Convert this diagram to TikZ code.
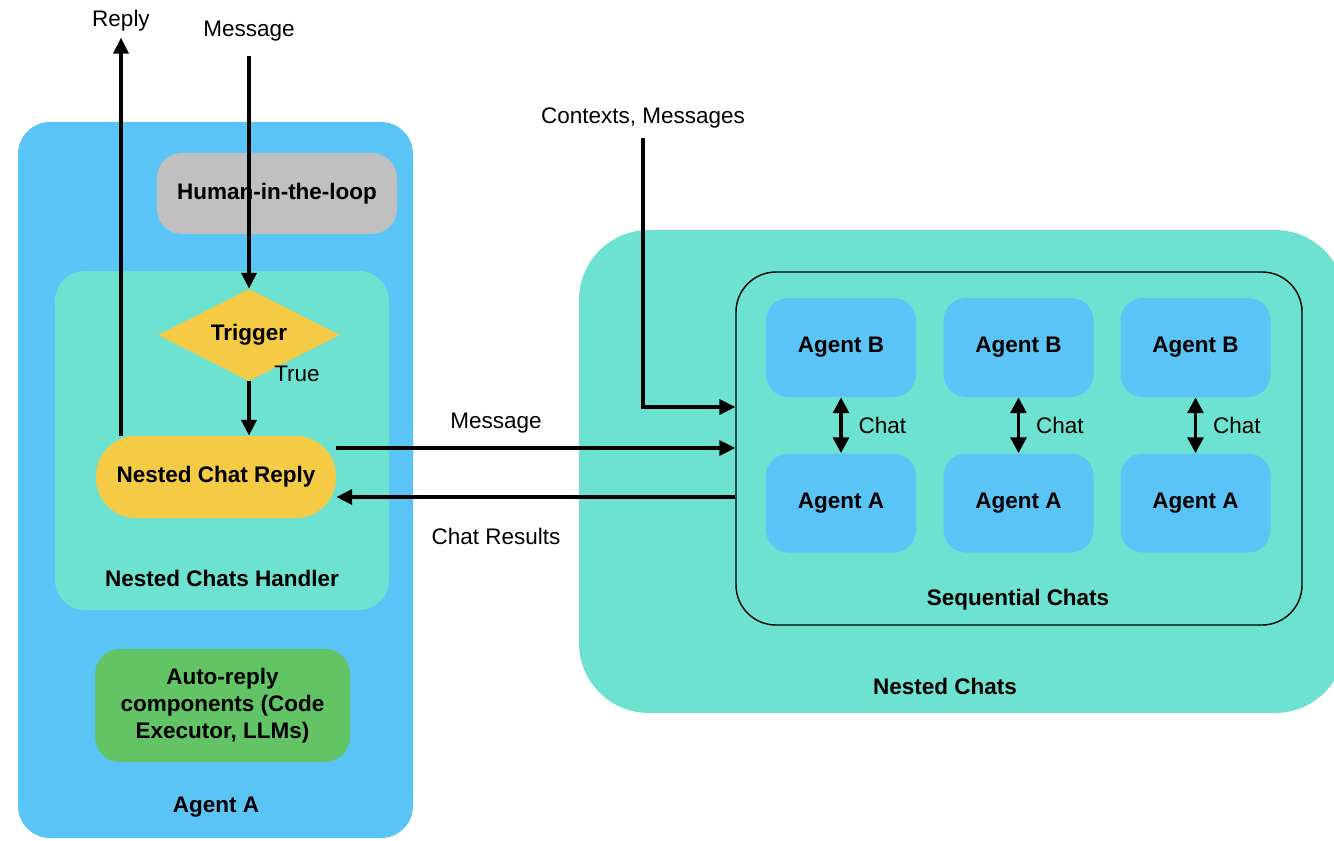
\documentclass[tikz,border=0pt]{standalone}
\usepackage{fontspec}
\setmainfont{Liberation Sans}
\usetikzlibrary{arrows.meta,shapes.geometric}

\definecolor{agentblue}{RGB}{91,196,246}
\definecolor{nestteal}{RGB}{110,226,208}
\definecolor{humangray}{RGB}{192,192,192}
\definecolor{trigyellow}{RGB}{245,202,69}
\definecolor{autogreen}{RGB}{99,196,102}

\tikzset{
    arr/.style={line width=2pt, -{Triangle[length=9pt,width=8.5pt]}},
    dblarr/.style={line width=2pt, {Triangle[length=9pt,width=9pt]}-{Triangle[length=9pt,width=9pt]}},
    boldtext/.style={font=\fontsize{12.8}{15.4}\selectfont\bfseries, align=center},
    agentbox/.style={boldtext, fill=agentblue, rounded corners=0.45cm, minimum width=3cm, minimum height=1.98cm}
}

\begin{document}
\begin{tikzpicture}[every node/.style={font=\fontsize{12.8}{15.4}\selectfont, text=black}]
        \clip (0,0) rectangle (26.68,-16.8);

        \node[fill=agentblue, rounded corners=0.64cm, minimum width=7.9cm, minimum height=14.32cm] (agenta) at (4.31,-9.6) {};
        \node[fill=humangray, rounded corners=0.5cm, minimum width=4.8cm, minimum height=1.62cm, boldtext] (human) at (5.54,-3.87) {Human-in-the-loop};
        \node[fill=nestteal, rounded corners=0.6cm, minimum width=6.68cm, minimum height=6.78cm] (handler) at (4.44,-8.81) {};
        \node[diamond, fill=trigyellow, aspect=2, inner sep=0pt, minimum width=3.64cm, minimum height=1.84cm, boldtext] (trig) at (4.98,-6.7) {Trigger};
        \node[fill=trigyellow, rounded corners=0.8cm, minimum width=4.8cm, minimum height=1.64cm, boldtext] (ncr) at (4.32,-9.54) {Nested Chat Reply};
        \node[boldtext] (handlerlbl) at (4.44,-11.56) {Nested Chats Handler};
        \node[fill=autogreen, rounded corners=0.5cm, minimum width=5.1cm, minimum height=2.26cm, boldtext] (auto) at (4.45,-14.11) {Auto-reply\\components (Code\\Executor, LLMs)};
        \node[boldtext] (agentalbl) at (4.32,-16.14) {Agent A};

        \node[fill=nestteal, rounded corners=1.4cm, minimum width=15.32cm, minimum height=9.66cm] (nested) at (19.24,-9.43) {};
        \node[draw=black, line width=0.8pt, rounded corners=0.8cm, minimum width=11.32cm, minimum height=7.06cm] (seq) at (20.38,-8.97) {};
        \node[boldtext] (seqlbl) at (20.36,-12) {Sequential Chats};
        \node[boldtext] (nestedlbl) at (18.9,-13.72) {Nested Chats};

        \node[agentbox] (b1) at (16.82,-6.95) {Agent B};
        \node[agentbox] (a1) at (16.82,-10.06) {Agent A};
        \draw[dblarr] (b1.south) -- (a1.north) node[midway, right=0.2cm] {Chat};

        \node[agentbox] (b2) at (20.37,-6.95) {Agent B};
        \node[agentbox] (a2) at (20.37,-10.06) {Agent A};
        \draw[dblarr] (b2.south) -- (a2.north) node[midway, right=0.2cm] {Chat};

        \node[agentbox] (b3) at (23.91,-6.95) {Agent B};
        \node[agentbox] (a3) at (23.91,-10.06) {Agent A};
        \draw[dblarr] (b3.south) -- (a3.north) node[midway, right=0.2cm] {Chat};

        \node (reply) at (2.42,-0.42) {Reply};
        \node (msg) at (4.98,-0.62) {Message};
        \node (ctx) at (12.86,-2.36) {Contexts, Messages};
        \node (true) at (5.94,-7.48) {True};
        \node (msglbl) at (9.92,-8.46) {Message};
        \node (reslbl) at (9.92,-10.72) {Chat Results};

        \draw[arr] (ncr.north -| reply) -- (reply.south);
        \draw[arr, shorten <=5pt] (msg.south) -- (trig.north);
        \draw[arr] (trig.south) -- (trig.south |- ncr.north);
        \draw[arr] ([yshift=0.58cm]ncr.east) -- ([yshift=0.58cm]ncr.east -| seq.west);
        \draw[arr] ([yshift=-0.97cm]seq.west) -- ([yshift=-0.97cm]seq.west -| ncr.east);
        \draw[arr, shorten <=2pt] (ctx.south) |- ([yshift=0.83cm]seq.west);
    \end{tikzpicture}
\end{document}
